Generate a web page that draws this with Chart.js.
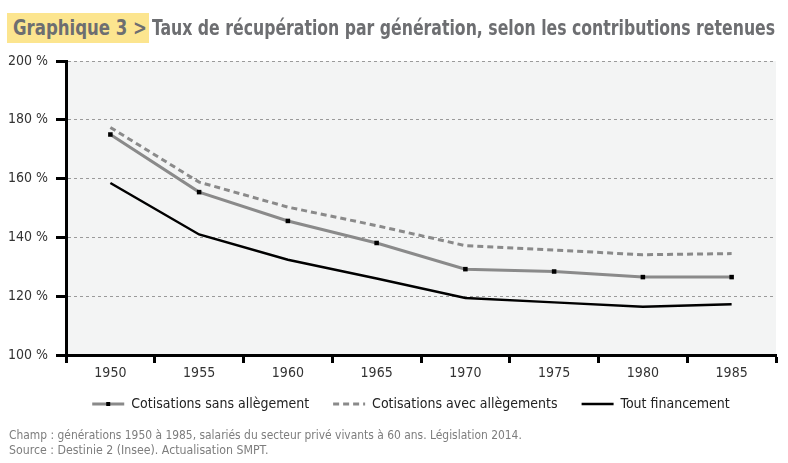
<!DOCTYPE html>
<html><head><meta charset="utf-8">
<script src="https://cdn.jsdelivr.net/npm/chart.js@4/dist/chart.umd.min.js"></script>
<style>
html,body{margin:0;padding:0;background:#fff;}
#wrap{position:relative;width:788px;height:463px;overflow:hidden;}
#c{position:absolute;left:0;top:0;}
.cf{font-family:"DejaVu Sans Condensed","Liberation Sans Narrow","Arial Narrow",sans-serif;font-stretch:condensed;}
.fit{position:absolute;white-space:nowrap;transform-origin:0 50%;}
#hl{position:absolute;left:7px;top:13px;width:142px;height:30px;background:#fce58f;}
#t1{left:13px;top:13px;height:30px;line-height:30px;font-size:21px;font-weight:bold;color:#6d6e71;}
#t2{left:152px;top:13px;height:30px;line-height:30px;font-size:21px;font-weight:bold;color:#6d6e71;}
#f1{left:9px;top:427px;font-size:13px;line-height:15px;color:#7d7d7d;}
#f2{left:9px;top:442px;font-size:13px;line-height:15px;color:#7d7d7d;}
</style></head><body>
<div id="wrap">
<canvas id="c" width="788" height="463"></canvas>
<div id="hl"></div>
<div id="t1" class="cf fit" data-w="134">Graphique 3 &gt;</div>
<div id="t2" class="cf fit" data-w="623">Taux de récupération par génération, selon les contributions retenues</div>
<div id="f1" class="cf fit" data-w="513">Champ : générations 1950 à 1985, salariés du secteur privé vivants à 60 ans. Législation 2014.</div>
<div id="f2" class="cf fit" data-w="259">Source : Destinie 2 (Insee). Actualisation SMPT.</div>
</div>
<script>
document.querySelectorAll('.fit').forEach(el=>{
  const w = el.scrollWidth, tw = +el.dataset.w;
  el.style.transform = 'scaleX(' + (tw/w) + ')';
});

const years = ['1950','1955','1960','1965','1970','1975','1980','1985'];
const sansAllegement = [175, 155.4, 145.6, 138.1, 129.2, 128.4, 126.5, 126.5];
const avecAllegements = [177.4, 158.8, 150.3, 144, 137.2, 135.7, 134.1, 134.5];
const toutFinancement = [158.5, 141, 132.4, 126, 119.4, 117.9, 116.4, 117.3];
const seriesNames = ['Cotisations sans allègement','Cotisations avec allègements','Tout financement'];
const yTicks = [100,120,140,160,180,200];

const FONT = '"DejaVu Sans Condensed","Liberation Sans Narrow","Arial Narrow",sans-serif';
const LEGEND_SHIFT_X = 23;
const LEGEND_SHIFT_Y = -10;

const bgPlugin = {
  id:'bg',
  afterLayout(chart){
    const lg = chart.legend;
    if(lg){ lg.left += LEGEND_SHIFT_X; lg.right += LEGEND_SHIFT_X; lg.top += LEGEND_SHIFT_Y; lg.bottom += LEGEND_SHIFT_Y; }
  },
  beforeDraw(chart){
    const a = chart.chartArea, ctx = chart.ctx;
    ctx.save(); ctx.fillStyle='#f3f4f4';
    ctx.fillRect(a.left,a.top,a.right-a.left,a.bottom-a.top);
    ctx.restore();
  },
  afterDraw(chart){
    const lg = chart.legend;
    if(!lg || !lg.legendHitBoxes || !lg.legendHitBoxes[0]) return;
    const hb = lg.legendHitBoxes[0];
    const ctx = chart.ctx;
    const cx = hb.left + 16, cy = hb.top + hb.height/2;
    ctx.save(); ctx.fillStyle='#000'; ctx.fillRect(cx-2,cy-2,4,4); ctx.restore();
  }
};

new Chart(document.getElementById('c'), {
  type:'line',
  data:{
    labels: years,
    datasets:[
      {label:seriesNames[0], data:sansAllegement, borderColor:'#8a8a8a', backgroundColor:'#000', borderWidth:3,
       pointStyle:'rect', pointRadius:3.2, pointBackgroundColor:'#000', pointBorderWidth:0, tension:0, order:0},
      {label:seriesNames[1], data:avecAllegements, borderColor:'#8a8a8a', backgroundColor:'#8a8a8a', borderWidth:3,
       borderDash:[6,4], pointRadius:0, tension:0, order:1},
      {label:seriesNames[2], data:toutFinancement, borderColor:'#000', backgroundColor:'#000', borderWidth:2.5,
       pointRadius:0, tension:0, order:2}
    ]
  },
  options:{
    responsive:false, animation:false, devicePixelRatio:1,
    layout:{padding:{left:0,top:61,right:12,bottom:32}},
    plugins:{
      tooltip:{enabled:false},
      legend:{position:'bottom',
        labels:{usePointStyle:true, pointStyle:'line', pointStyleWidth:32, padding:24,
          color:'#222', font:{family:FONT, size:14},
          generateLabels(chart){
            return chart.data.datasets.map((d,i)=>({
              text:d.label, datasetIndex:i, hidden:false, pointStyle:'line',
              strokeStyle:d.borderColor, fillStyle:d.borderColor, lineWidth:d.borderWidth,
              lineDash:d.borderDash||[], fontColor:'#222'
            }));
          }}}
    },
    scales:{
      x:{offset:true,
        grid:{offset:true, drawOnChartArea:false, tickLength:8, tickWidth:3, tickColor:'#000'},
        border:{color:'#000', width:3},
        ticks:{color:'#333', font:{family:FONT,size:14}, padding:2, maxRotation:0},
        afterFit(s){ s.height = 28; }
      },
      y:{min:100,max:200,
        afterBuildTicks(s){ s.ticks = yTicks.map(v=>({value:v})); },
        afterFit(s){ s.width = 66; },
        grid:{color:'#9a9a9a', lineWidth:1, tickLength:10, tickWidth:3, tickColor:'#000', tickBorderDash:[]},
        border:{color:'#000', width:3, dash:[3,3]},
        ticks:{color:'#333', font:{family:FONT,size:14}, padding:8, callback:v=>v+' %'}
      }
    }
  },
  plugins:[bgPlugin]
});
</script>
</body></html>
